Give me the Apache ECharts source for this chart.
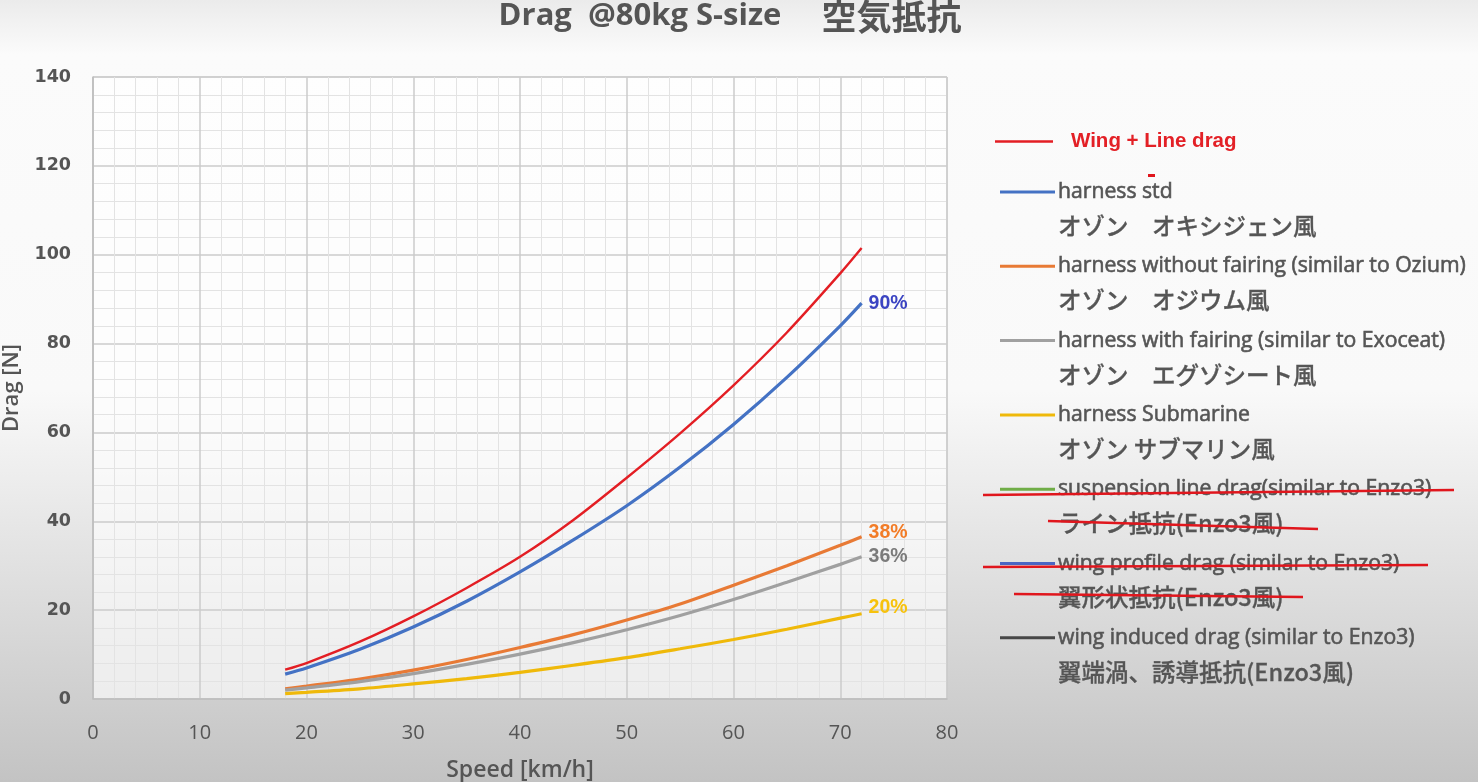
<!DOCTYPE html>
<html>
<head>
<meta charset="utf-8">
<script src="https://cdn.jsdelivr.net/npm/echarts@6/dist/echarts.min.js"></script>
<style>html,body{margin:0;padding:0;}#c{width:1478px;height:782px;}</style>
</head>
<body>
<div id="c"></div>
<script>
// ---- data ----
const speeds = [18, 20, 25, 30, 35, 40, 45, 50, 55, 60, 65, 70, 72];
const wingLine   = [6.6, 8.1, 12.9, 18.6, 25.0, 32.0, 40.3, 49.8, 59.8, 70.6, 82.5, 95.8, 101.5];
const harnessStd = [5.6, 7.0, 11.2, 16.2, 22.0, 28.6, 35.8, 43.5, 52.2, 61.8, 72.4, 84.0, 89.1];
const noFairing  = [2.3, 2.9, 4.5, 6.5, 8.9, 11.6, 14.5, 17.8, 21.4, 25.6, 30.0, 34.6, 36.5];
const withFairing= [2.0, 2.5, 3.9, 5.7, 7.8, 10.1, 12.7, 15.6, 18.8, 22.4, 26.3, 30.3, 32.0];
const submarine  = [1.2, 1.5, 2.3, 3.4, 4.6, 6.0, 7.6, 9.3, 11.3, 13.4, 15.7, 18.2, 19.2];
const seriesNames = [
  'harness std',
  'harness without fairing (similar to Ozium)',
  'harness with fairing (similar to Exoceat)',
  'harness Submarine',
  'suspension line drag(similar to Enzo3)',
  'wing profile drag (similar to Enzo3)',
  'wing induced drag (similar to Enzo3)'
];
const jpNames = [
  'オゾン　オキシジェン風',
  'オゾン　オジウム風',
  'オゾン　エグゾシート風',
  'オゾン サブマリン風',
  'ライン抵抗(Enzo3風)',
  '翼形状抵抗(Enzo3風)',
  '翼端渦、誘導抵抗(Enzo3風)'
];
const endLabels = ['90%', '38%', '36%', '20%'];
const xTicks = [0, 10, 20, 30, 40, 50, 60, 70, 80];

const pair = arr => speeds.map((s, i) => [s, arr[i]]);
const chart = echarts.init(document.getElementById('c'));
const txt = '#555555';
const lineSeries = (name, data, color, width, label, labelColor, off) => ({
  name, type: 'line', data: data ? pair(data) : [], smooth: 0.3, showSymbol: false,
  symbol: 'none', color, lineStyle: { color, width }, itemStyle: { color },
  endLabel: label ? { show: true, formatter: label, color: labelColor, fontSize: 19.5,
    fontWeight: 'bold', fontFamily: 'Liberation Sans, Arial', distance: 7, offset: off || [0, 0] } : { show: false },
  z: 3
});
const legIcon = 'path://M0,15.5L55,15.5L55,18.5L0,18.5ZM0,0L0,0M55,68L55,68';

chart.setOption({
  animation: false,
  backgroundColor: { type: 'linear', x: 0, y: 0, x2: 0, y2: 1, colorStops: [
    { offset: 0, color: '#ebebeb' }, { offset: 0.07, color: '#fbfbfb' },
    { offset: 0.5, color: '#f9f9f9' }, { offset: 1, color: '#c3c3c3' }] },
  title: {
    text: '{a|Drag  @80kg S-size}{g|}{b|空気抵抗}', left: 730, top: 0, textAlign: 'center', padding: 0,
    textStyle: { rich: {
      a: { fontSize: 31, fontWeight: 'bold', color: txt, fontFamily: 'Open Sans', lineHeight: 33 },
      g: { width: 40, lineHeight: 33 },
      b: { fontSize: 35, fontWeight: 'bold', color: txt, fontFamily: 'Noto Sans CJK JP', lineHeight: 33 }
    } }
  },
  grid: { left: 93, right: 531, top: 77, bottom: 83, show: true, outerBoundsMode: 'none', containLabel: false,
    backgroundColor: 'rgba(255,255,255,0.62)', borderColor: '#c4c4c4', borderWidth: 1 },
  xAxis: {
    type: 'value', min: 0, max: 80, interval: 10,
    name: 'Speed [km/h]', nameLocation: 'middle', nameGap: 60,
    nameTextStyle: { fontSize: 23, fontWeight: 600, color: txt, fontFamily: 'Open Sans' },
    axisLine: { show: true, lineStyle: { color: '#bdbdbd', width: 1.5 } },
    axisTick: { show: false },
    axisLabel: { margin: 24, fontSize: 20, color: txt, fontFamily: 'Liberation Sans Narrow, Open Sans',
      customValues: xTicks },
    splitLine: { show: true, lineStyle: { color: '#cbcbcb', width: 1.5 } },
    minorTick: { show: false, splitNumber: 5 },
    minorSplitLine: { show: true, lineStyle: { color: '#e3e3e3', width: 1 } }
  },
  yAxis: {
    type: 'value', min: 0, max: 140, interval: 20,
    name: 'Drag [N]', nameLocation: 'middle', nameGap: 70, nameRotate: 90,
    nameTextStyle: { fontSize: 22, fontWeight: 600, color: txt, fontFamily: 'Open Sans' },
    axisLine: { show: true, lineStyle: { color: '#bdbdbd', width: 1.5 } },
    axisTick: { show: false },
    axisLabel: { margin: 22, fontSize: 17.5, fontWeight: 'bold', color: txt, fontFamily: 'DejaVu Sans' },
    splitLine: { show: true, lineStyle: { color: '#cbcbcb', width: 1.5 } },
    minorTick: { show: false, splitNumber: 5 },
    minorSplitLine: { show: true, lineStyle: { color: '#e3e3e3', width: 1 } }
  },
  legend: [
    { data: ['Wing + Line drag'], orient: 'vertical', left: 990, top: 126,
      icon: 'rect', itemWidth: 58, itemHeight: 2.5, itemStyle: { borderWidth: 0 },
      textStyle: { color: '#e32026', fontSize: 20.5, fontWeight: 'bold', fontFamily: 'Liberation Sans, Arial',
        padding: [0, 0, 0, 13] } },
    { data: seriesNames, orient: 'vertical', left: 995, top: 170,
      icon: legIcon, itemWidth: 55, itemHeight: 68, itemGap: 6.3, itemStyle: { borderWidth: 0 },
      formatter: name => '{a|' + name + '}\n{b|' + jpNames[seriesNames.indexOf(name)] + '}',
      textStyle: { color: txt, padding: [0, 0, 0, -2],
        rich: {
          a: { fontSize: 21.2, lineHeight: 34, color: txt, fontFamily: 'Open Sans, Noto Sans CJK JP',
               textBorderColor: txt, textBorderWidth: 0.6 },
          b: { fontSize: 23.5, fontWeight: 500, lineHeight: 34, color: txt, fontFamily: 'Noto Sans CJK JP',
               textBorderColor: txt, textBorderWidth: 0.3 }
        } } }
  ],
  series: [
    lineSeries(seriesNames[0], harnessStd, '#4472c4', 3.2, endLabels[0], '#3b44c2'),
    lineSeries(seriesNames[1], noFairing, '#e87a35', 3.2, endLabels[1], '#f27c27', [0, -4]),
    lineSeries(seriesNames[2], withFairing, '#a0a0a0', 3.2, endLabels[2], '#7b7b7b'),
    lineSeries(seriesNames[3], submarine, '#efb90a', 3.2, endLabels[3], '#f7c20d', [0, -6]),
    lineSeries(seriesNames[4], null, '#70ad47', 3.2),
    lineSeries(seriesNames[5], null, '#4a66c4', 3.2),
    lineSeries(seriesNames[6], null, '#474747', 3.2),
    Object.assign(lineSeries('Wing + Line drag', wingLine, '#e31e24', 2.4), { z: 4 })
  ],
  graphic: [
    { type: 'line', z: 100, shape: { x1: 983, y1: 495, x2: 1454, y2: 490 }, style: { stroke: '#e0161d', lineWidth: 2.5 } },
    { type: 'line', z: 100, shape: { x1: 1048, y1: 521, x2: 1318, y2: 529 }, style: { stroke: '#e0161d', lineWidth: 2.5 } },
    { type: 'line', z: 100, shape: { x1: 983, y1: 567, x2: 1428, y2: 565 }, style: { stroke: '#e0161d', lineWidth: 2.5 } },
    { type: 'line', z: 100, shape: { x1: 1014, y1: 594, x2: 1303, y2: 597 }, style: { stroke: '#e0161d', lineWidth: 2.5 } },
    { type: 'rect', z: 100, shape: { x: 1148, y: 174, width: 7, height: 3 }, style: { fill: '#e0161d' } }
  ]
});
</script>
</body>
</html>
